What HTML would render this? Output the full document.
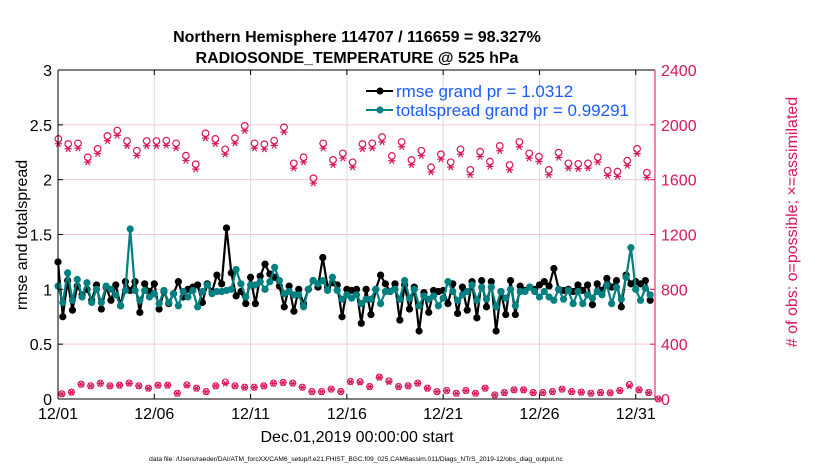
<!DOCTYPE html>
<html><head><meta charset="utf-8">
<style>
body{margin:0;background:#fff;}
svg{display:block;font-family:"Liberation Sans",Arial,sans-serif;}
</style></head>
<body>
<svg id="chart" width="830" height="470" viewBox="0 0 830 470" xmlns="http://www.w3.org/2000/svg">
<g id="grid"></g>
<g id="obs"></g>
<g id="lines"></g>
<g id="axes"></g>
<text x="357" y="42" text-anchor="middle" font-size="16" font-weight="bold">Northern Hemisphere 114707 / 116659 = 98.327%</text>
<text x="357" y="63" text-anchor="middle" font-size="16" font-weight="bold">RADIOSONDE_TEMPERATURE @ 525 hPa</text>
<text transform="translate(27,235) rotate(-90)" text-anchor="middle" font-size="16">rmse and totalspread</text>
<text transform="translate(797,222) rotate(-90)" text-anchor="middle" font-size="16" fill="#d6175c"># of obs: o=possible; ×=assimilated</text>
<text x="357" y="442" text-anchor="middle" font-size="16">Dec.01,2019 00:00:00 start</text>
<text x="356" y="461" text-anchor="middle" font-size="6.6">data file: /Users/raeder/DAI/ATM_forcXX/CAM6_setup/f.e21.FHIST_BGC.f09_025.CAM6assim.011/Diags_NTrS_2019-12/obs_diag_output.nc</text>
<g>
<line x1="366" y1="91" x2="393" y2="91" stroke="#000" stroke-width="2"/>
<circle cx="380" cy="91" r="3.5" fill="#000"/>
<text x="396" y="97" font-size="17" fill="#1a5cff">rmse grand pr = 1.0312</text>
<line x1="366" y1="110" x2="393" y2="110" stroke="#008080" stroke-width="2"/>
<circle cx="380" cy="110" r="3.5" fill="#008080"/>
<text x="396" y="116" font-size="17" fill="#1a5cff">totalspread grand pr = 0.99291</text>
</g>
</svg>
<script>
const rmse = [1.25,0.75,1.08,0.81,1.03,0.95,1.0,0.9,1.04,0.82,1.02,0.9,1.04,0.85,1.07,0.99,1.07,0.79,1.05,0.98,1.05,0.82,0.98,0.87,0.96,1.07,0.93,1.0,1.02,1.04,0.88,1.05,0.98,1.13,1.05,1.56,1.15,0.94,0.98,0.87,1.11,0.87,1.12,1.23,1.14,1.11,1.03,0.84,1.03,0.8,1.0,0.87,1.0,1.08,1.02,1.29,1.02,1.06,1.04,
0.75,1.0,0.99,1.0,0.69,1.0,0.77,1.0,1.13,1.05,0.98,1.05,0.72,1.04,0.82,1.02,0.62,0.97,0.79,0.99,0.98,0.99,0.87,1.05,0.78,1.02,0.81,1.07,0.74,1.08,0.84,1.07,0.62,0.98,0.77,1.08,0.77,1.03,0.99,1.02,1.0,1.04,1.07,1.03,1.19,1.0,0.99,1.0,0.98,1.04,0.99,1.04,0.86,1.05,0.99,1.1,1.02,1.08,0.84,1.13,1.05,1.07,1.05,1.08,0.9];
const spread = [1.03,0.88,1.15,0.9,1.09,0.93,1.06,0.88,1.0,0.88,1.03,1.0,0.95,0.85,0.99,1.55,0.99,0.9,0.99,0.93,0.96,0.87,0.99,0.88,0.96,0.85,0.98,0.93,0.99,0.84,0.98,1.04,0.96,0.98,0.98,0.99,1.0,1.18,1.05,0.93,1.04,1.04,1.07,1.0,1.07,1.2,1.08,0.96,0.98,0.95,0.95,0.84,1.0,1.08,1.05,1.08,0.99,1.11,0.99,
0.91,0.95,0.92,0.95,0.87,0.91,0.91,1.0,0.87,0.98,0.98,1.0,0.91,1.08,0.92,1.0,0.85,0.94,0.91,0.94,0.85,0.92,1.07,0.98,0.9,0.95,0.98,1.04,0.9,1.02,0.91,1.02,0.84,0.98,0.92,1.0,0.85,0.98,0.98,1.02,0.98,0.93,0.98,0.93,0.9,1.0,0.91,0.99,0.87,0.98,0.87,0.95,0.92,0.98,0.95,1.04,0.87,1.02,0.91,1.11,1.38,1.0,0.9,1.01,0.95];
const possibleHigh = [1897,1860,1865,1763,1825,1919,1958,1882,1811,1882,1882,1885,1865,1775,1712,1938,1897,1821,1902,1992,1865,1858,1885,1982,1719,1763,1610,1865,1744,1792,1727,1860,1865,1911,1773,1875,1744,1811,1690,1785,1727,1821,1671,1804,1732,1846,1707,1875,1792,1768,1671,1797,1719,1715,1719,1763,1666,1659,1739,1825,1651];
const assimHigh = [1862,1825,1830,1728,1790,1884,1923,1847,1776,1847,1847,1850,1830,1740,1677,1903,1862,1786,1867,1957,1830,1823,1850,1947,1684,1728,1575,1830,1709,1757,1692,1825,1830,1876,1738,1840,1709,1776,1655,1750,1692,1786,1636,1769,1697,1811,1672,1840,1757,1733,1636,1762,1684,1680,1684,1728,1631,1624,1704,1790,1616];
const assimLow = [36,49,107,95,114,95,100,114,95,78,100,100,41,100,78,53,95,114,95,85,85,95,114,119,114,85,53,53,71,53,126,122,90,158,126,90,95,114,78,53,61,41,61,41,78,29,46,66,66,46,46,53,71,53,49,41,46,44,61,95,66,46,0];
const possibleLow = [38,50,108,96,115,96,101,116,96,79,101,101,42,104,79,54,96,124,96,86,86,96,115,121,116,86,54,54,72,54,128,126,91,160,132,91,96,116,79,54,62,42,62,42,79,30,47,67,67,47,47,54,72,54,50,42,47,45,62,106,67,47,0];
const xTickLabels = ["12/01","12/06","12/11","12/16","12/21","12/26","12/31"];
const xTickDays = [0,5,10,15,20,25,30];
const leftTicks = ["0","0.5","1","1.5","2","2.5","3"];
const rightTicks = ["0","400","800","1200","1600","2000","2400"];

const L=58,R=655,T=70,B=399, DAYS=31, PINK="#d6175c";
const NS="http://www.w3.org/2000/svg";
const xs=d=>L+(R-L)*d/DAYS;
const yl=v=>B-(B-T)*v/3;
const yr=v=>B-(B-T)*v/2400;
function mk(tag,attrs,parent){const e=document.createElementNS(NS,tag);for(const k in attrs)e.setAttribute(k,attrs[k]);parent.appendChild(e);return e;}
const grid=document.getElementById('grid'),axes=document.getElementById('axes'),obs=document.getElementById('obs'),lines=document.getElementById('lines');

xTickDays.forEach((d,i)=>{
  const x=xs(d);
  if(d>0){const g=mk('line',{x1:x,y1:T,x2:x,y2:B,stroke:'#d9d9d9','stroke-width':1},grid);
  
  }
  mk('line',{x1:x,y1:B,x2:x,y2:B-5,stroke:'#000'},axes);
  mk('line',{x1:x,y1:T,x2:x,y2:T+5,stroke:'#000'},axes);
  const t=mk('text',{x:x,y:B+20,'text-anchor':'middle','font-size':16},axes);
  t.textContent=xTickLabels[i];
  
  
});
leftTicks.forEach((lab,i)=>{
  const y=yl(i*0.5);
  if(i>0&&i<6){const g=mk('line',{x1:L,y1:y,x2:R,y2:y,stroke:'#f6c9d8','stroke-width':1},grid);
  
  }
  mk('line',{x1:L,y1:y,x2:L+5,y2:y,stroke:'#000'},axes);
  mk('line',{x1:R,y1:y,x2:R-5,y2:y,stroke:PINK},axes);
  const t=mk('text',{x:L-6,y:y+6,'text-anchor':'end','font-size':16},axes);
  t.textContent=lab;
  
  
  const t2=mk('text',{x:R+6,y:y+6,'text-anchor':'start','font-size':16,fill:PINK},axes);
  t2.textContent=rightTicks[i];
  
  
});
mk('line',{x1:L,y1:T,x2:R,y2:T,stroke:'#000'},axes);
mk('line',{x1:L,y1:B,x2:R,y2:B,stroke:'#000'},axes);
mk('line',{x1:L,y1:T,x2:L,y2:B,stroke:'#000'},axes);
mk('line',{x1:R,y1:T,x2:R,y2:B,stroke:PINK},axes);

function star(x,y,p){
  const s=3.6;
  mk('line',{x1:x-s,y1:y,x2:x+s,y2:y,stroke:PINK,'stroke-width':1.2},p);
  mk('line',{x1:x-s*0.6,y1:y-s*0.85,x2:x+s*0.6,y2:y+s*0.85,stroke:PINK,'stroke-width':1.2},p);
  mk('line',{x1:x+s*0.6,y1:y-s*0.85,x2:x-s*0.6,y2:y+s*0.85,stroke:PINK,'stroke-width':1.2},p);
}
possibleHigh.forEach((v,k)=>{
  const x=xs(0.02+k*0.5093);
  const c=mk('circle',{cx:x,cy:yr(v),r:3.3,fill:'none',stroke:PINK,'stroke-width':1.2},obs);
  
  
  star(x,yr(assimHigh[k]),obs);
});
assimLow.forEach((v,k)=>{
  const x=xs(0.2+k*0.4995);
  const c=mk('circle',{cx:x,cy:yr(possibleLow[k]),r:3.0,fill:'none',stroke:PINK,'stroke-width':1.1},obs);
  
  
  star(x,yr(v),obs);
});
function series(arr,color,name){
  const pts=arr.map((v,i)=>xs(i*0.25).toFixed(1)+','+yl(v).toFixed(1)).join(' ');
  const pl=mk('polyline',{points:pts,fill:'none',stroke:color,'stroke-width':2.2,'stroke-linejoin':'round'},lines);
  
  
  arr.forEach((v,i)=>{
    const c=mk('circle',{cx:xs(i*0.25),cy:yl(v),r:3.6,fill:color},lines);
    
    
  });
}
series(rmse,'#000','rmse');
series(spread,'#008080','totalspread');
</script>
</body></html>
